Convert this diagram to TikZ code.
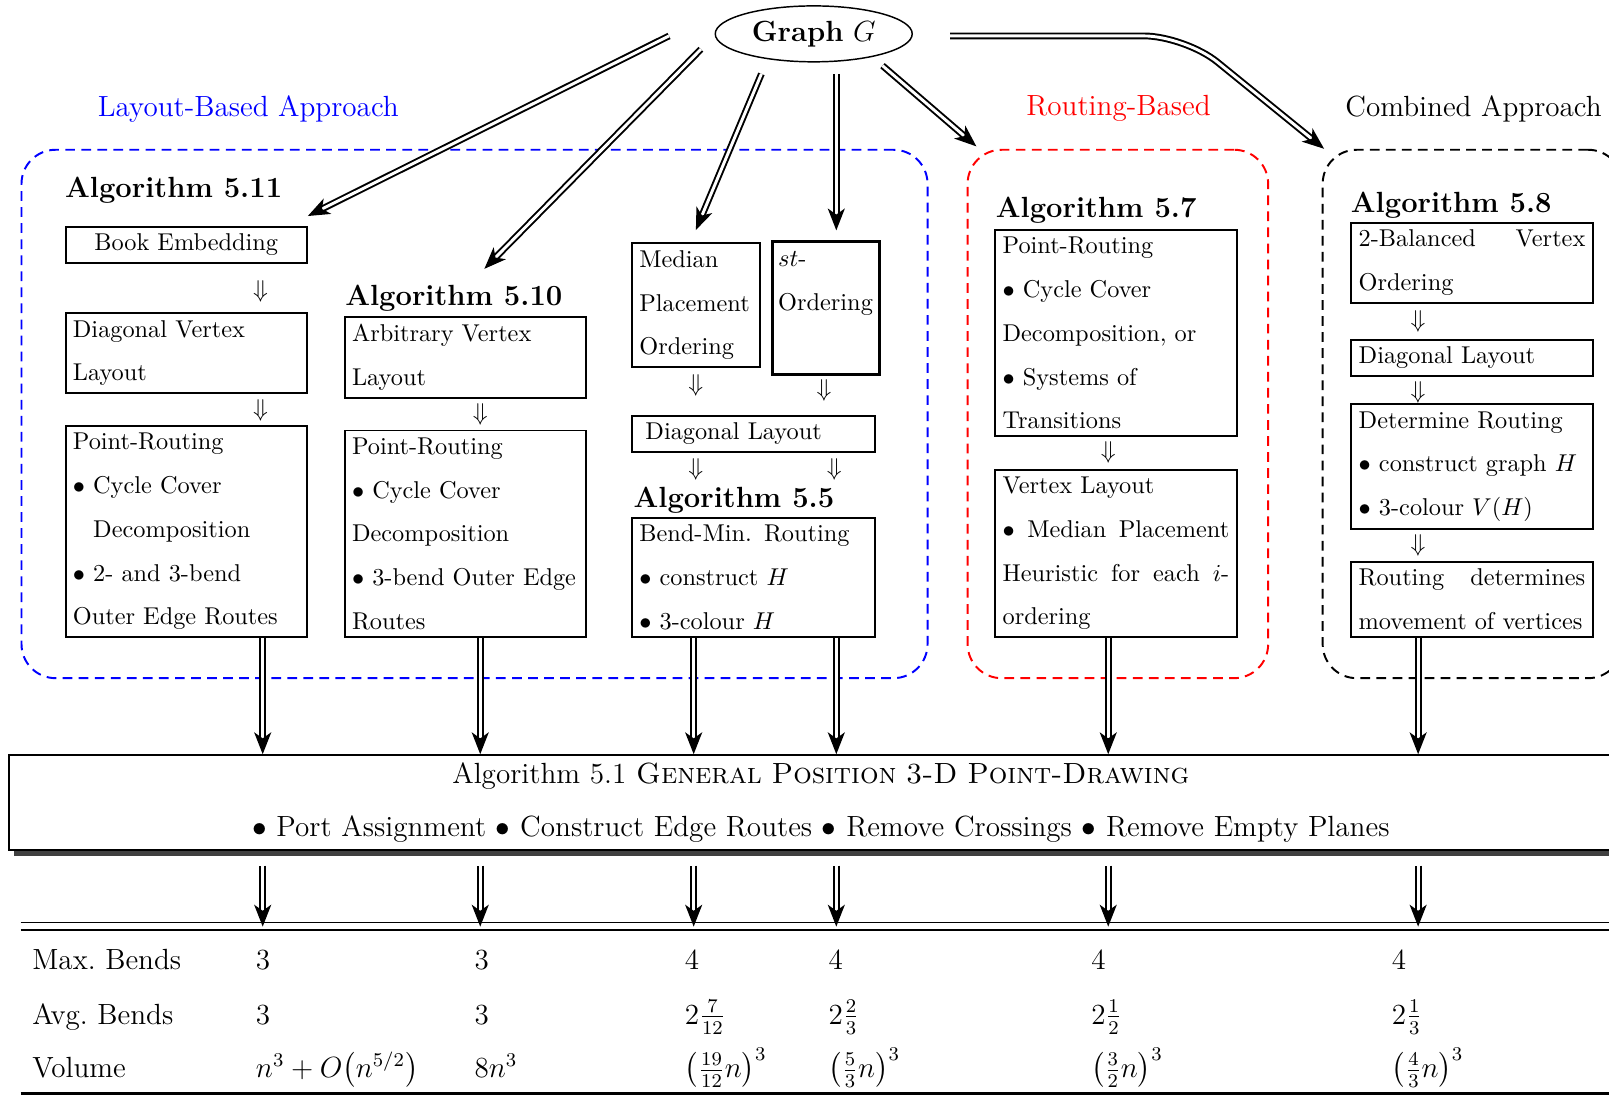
\documentclass[tikz,border=0pt]{standalone}
\usepackage{amsmath}
\usepackage{amssymb}
\usetikzlibrary{arrows.meta,shapes.geometric,shadows,positioning}

\newcommand{\itm}{$\bullet$\ }
\newcommand{\spread}{\hskip 0pt plus 1filll\relax}

\tikzset{
  stagebox/.style={draw, thick, align=left, inner xsep=3pt, inner ysep=3pt,
    text width=93.2pt, font=\fontsize{10}{18}\selectfont},
  algtitle/.style={anchor=base west, inner sep=0pt, font=\large\bfseries},
  flow/.style={double, double distance=1.2pt, line width=0.8pt,
    -{Stealth[length=9pt,width=7pt,inset=2.5pt]}},
  group/.style={draw, thick, dash pattern=on 4pt off 2.6pt, rounded corners=14pt,
    anchor=north west, inner sep=0pt, minimum height=217.3pt},
  tabcell/.style={anchor=base west, inner sep=0pt, font=\large},
}

\begin{document}
\begin{tikzpicture}[x=0.422pt,y=-0.422pt]
\useasboundingbox (0,0) rectangle (1568,1068);
\clip (0,0) rectangle (1568,1068);

% the three approaches
\node[group, draw=blue, minimum width=372.6pt] (layoutgrp) at (20,145) {};
\node[group, draw=red, minimum width=123.6pt] (routegrp) at (942,145) {};
\node[group, draw=black, minimum width=123.2pt] (combgrp) at (1288,145) {};
\node[text=blue, font=\large] (layoutlbl) at (242,106) {Layout-Based Approach};
\node[text=red, font=\large] (routelbl) at (1090,106) {Routing-Based};
\node[font=\large] (comblbl) at (1436,106) {Combined Approach};

% input graph
\node[ellipse, draw, line width=0.6pt, minimum width=81pt, minimum height=23pt,
  inner sep=0pt, font=\large] (graph) at (793,33) {\textbf{Graph} $G$};

% Algorithm 5.11
\node[algtitle] (t511) at (63,192) {Algorithm 5.11};
\node[stagebox, align=center, anchor=north west] (book) at (63,220) {Book Embedding};
\node (dA1) at (254,284) {$\Downarrow$};
\node[stagebox, anchor=north west] (diagA) at (63,304) {Diagonal Vertex\\Layout};
\node (dA2) at (254,400) {$\Downarrow$};
\node[stagebox, anchor=south west] (prA) at (63,622)
  {Point-Routing\\\itm Cycle Cover\\\phantom{\itm}Decomposition\\\itm 2- and 3-bend\\Outer Edge Routes};

% Algorithm 5.10
\node[algtitle] (t510) at (336,298) {Algorithm 5.10};
\node[stagebox, anchor=north west] (arbB) at (335,308) {Arbitrary Vertex\\Layout};
\node (dB1) at (468,404) {$\Downarrow$};
\node[stagebox, anchor=south west] (prB) at (335,622)
  {Point-Routing\\\itm Cycle Cover\\Decomposition\\\itm 3-bend Outer Edge\\Routes};

% Algorithm 5.5
\node[stagebox, text width=46.5pt, anchor=north west] (median) at (615,236)
  {Median\\Placement\\Ordering};
\node[stagebox, text width=39pt, inner xsep=2.5pt, line width=1.2pt, minimum height=54.6pt,
  anchor=north west] (stord) at (751,234) {$st$-\\Ordering\\[4pt]\mbox{}};
\node (dC1) at (678,376) {$\Downarrow$};
\node (dC2) at (803,380) {$\Downarrow$};
\node[stagebox, text width=94pt, anchor=north west] (diagC) at (615,404)
  {\hspace*{2.5pt}Diagonal Layout};
\node (dC3) at (678,457) {$\Downarrow$};
\node (dC4) at (813,457) {$\Downarrow$};
\node[algtitle] (t55) at (617,495) {Algorithm 5.5};
\node[stagebox, text width=94pt, anchor=south west] (bendC) at (615,622)
  {Bend-Min. Routing\\\itm construct $H$\\\itm 3-colour $H$};

% Algorithm 5.7
\node[algtitle] (t57) at (970,212) {Algorithm 5.7};
\node[stagebox, anchor=north west] (prE) at (969,223)
  {Point-Routing\\\itm Cycle Cover\\Decomposition, or\\\itm Systems of\\Transitions};
\node (dE1) at (1080,441) {$\Downarrow$};
\node[stagebox, anchor=south west] (vlE) at (969,622)
  {Vertex Layout\\$\bullet$\spread Median\spread Placement\\Heuristic\spread for\spread each\spread $i$-\\ordering};

% Algorithm 5.8
\node[algtitle] (t58) at (1316,207) {Algorithm 5.8};
\node[stagebox, anchor=north west] (balF) at (1316,216) {2-Balanced\spread Vertex\\Ordering};
\node (dF1) at (1382,313) {$\Downarrow$};
\node[stagebox, anchor=north west] (diagF) at (1316,330) {Diagonal Layout};
\node (dF2) at (1382,382) {$\Downarrow$};
\node[stagebox, anchor=north west] (detF) at (1316,393)
  {Determine Routing\\\itm construct graph $H$\\\itm 3-colour $V(H)$};
\node (dF3) at (1382,532) {$\Downarrow$};
\node[stagebox, anchor=south west] (movF) at (1316,622)
  {Routing\spread determines\\movement of vertices};

% Algorithm 5.1
\node[draw, thick, fill=white, anchor=north west, inner sep=3pt,
  drop shadow={shadow xshift=2pt, shadow yshift=-2.5pt, fill=black!75, opacity=1},
  text width=661.6pt, align=center, font=\fontsize{12}{22}\selectfont] (gp) at (8,735)
  {Algorithm 5.1 \textsc{General Position 3-D Point-Drawing}\\
   \itm Port Assignment \itm Construct Edge Routes \itm Remove Crossings \itm Remove Empty Planes};

% arrows out of the graph
\coordinate (g1) at (652,35);
\coordinate (g2) at (683,48);
\coordinate (g3) at (742,72);
\coordinate (g4) at (815,72);
\coordinate (g5) at (860,64);
\coordinate (g6) at (926,35);
\coordinate (bend) at (1155,35);
\coordinate (e2) at (472,262);
\coordinate (cA) at (256,0);
\coordinate (cB) at (468,0);
\coordinate (cC) at (676,0);
\coordinate (cD) at (815,0);
\coordinate (cE) at (1080,0);
\coordinate (cF) at (1382,0);
\coordinate (toprule) at (0,903);

\draw[flow] (g1) -- ([yshift=4pt]book.north east);
\draw[flow] (g2) -- (e2);
\draw[flow] (g3) -- ([yshift=5pt]median.north);
\draw[flow] (g4) -- ([yshift=4pt]stord.north -| cD);
\draw[flow] (g5) -- ([xshift=4pt,yshift=1pt]routegrp.north west);
\draw[flow, rounded corners=17pt] (g6) -- (bend) -- ([xshift=1pt]combgrp.north west);

% into and out of Algorithm 5.1
\draw[flow] (prA.south -| cA) -- (gp.north -| cA);
\draw[flow] (prB.south -| cB) -- (gp.north -| cB);
\draw[flow] (bendC.south -| cC) -- (gp.north -| cC);
\draw[flow] (bendC.south -| cD) -- (gp.north -| cD);
\draw[flow] (vlE.south -| cE) -- (gp.north -| cE);
\draw[flow] (movF.south -| cF) -- (gp.north -| cF);
\draw[flow] ([yshift=-6pt]gp.south -| cA) -- (toprule -| cA);
\draw[flow] ([yshift=-6pt]gp.south -| cB) -- (toprule -| cB);
\draw[flow] ([yshift=-6pt]gp.south -| cC) -- (toprule -| cC);
\draw[flow] ([yshift=-6pt]gp.south -| cD) -- (toprule -| cD);
\draw[flow] ([yshift=-6pt]gp.south -| cE) -- (toprule -| cE);
\draw[flow] ([yshift=-6pt]gp.south -| cF) -- (toprule -| cF);

% results table
\draw[thick] (20,899) -- (1568,899);
\draw[thick] (20,906) -- (1568,906);
\draw[line width=1.2pt] (20,1066) -- (1568,1066);
\node[tabcell] (maxlbl) at (31,945) {Max.\ Bends};
\node[tabcell] (avglbl) at (31,998) {Avg.\ Bends};
\node[tabcell] (vollbl) at (31,1050) {Volume};
\node[tabcell] (max1) at (249,945) {$3$};
\node[tabcell] (max2) at (462,945) {$3$};
\node[tabcell] (max3) at (667,945) {$4$};
\node[tabcell] (max4) at (807,945) {$4$};
\node[tabcell] (max5) at (1063,945) {$4$};
\node[tabcell] (max6) at (1356,945) {$4$};
\node[tabcell] (avg1) at (249,998) {$3$};
\node[tabcell] (avg2) at (462,998) {$3$};
\node[tabcell] (avg3) at (667,998) {$2\frac{7}{12}$};
\node[tabcell] (avg4) at (807,998) {$2\frac{2}{3}$};
\node[tabcell] (avg5) at (1063,998) {$2\frac{1}{2}$};
\node[tabcell] (avg6) at (1356,998) {$2\frac{1}{3}$};
\node[tabcell] (vol1) at (249,1050) {$n^3+O\bigl(n^{5/2}\bigr)$};
\node[tabcell] (vol2) at (462,1050) {$8n^3$};
\node[tabcell] (vol3) at (667,1050) {$\left(\frac{19}{12}n\right)^3$};
\node[tabcell] (vol4) at (807,1050) {$\left(\frac{5}{3}n\right)^3$};
\node[tabcell] (vol5) at (1063,1050) {$\left(\frac{3}{2}n\right)^3$};
\node[tabcell] (vol6) at (1356,1050) {$\left(\frac{4}{3}n\right)^3$};
\end{tikzpicture}
\end{document}
